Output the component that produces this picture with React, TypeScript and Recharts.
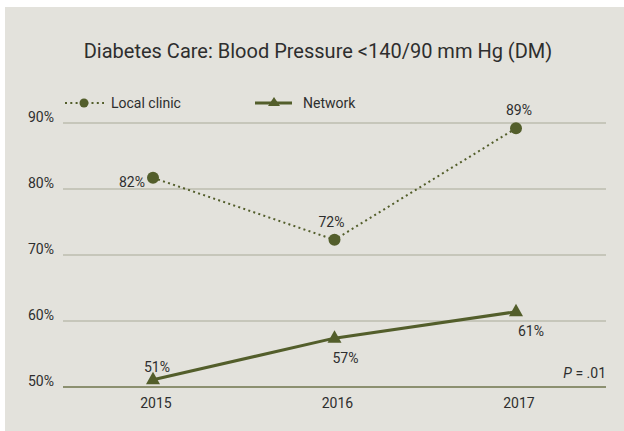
import React from 'react';
import { LineChart, Line, XAxis, YAxis, CartesianGrid, ReferenceLine, LabelList } from 'recharts';

const years = ['2015', '2016', '2017'];
const localClinic = [81.7, 72.3, 89.2];
const network = [51.1, 57.4, 61.4];
const yTicks = [50, 60, 70, 80, 90];
const seriesNames = ['Local clinic', 'Network'];
const titleText = 'Diabetes Care: Blood Pressure <140/90 mm Hg (DM)';
const pText = ' = .01';

const data = years.map((y, i) => ({ year: y, local: localClinic[i], network: network[i] }));

const OLIVE = '#535e2b';
const BG = '#e3e2dc';
const TEXT = '#2e2e2e';
const FONT = 'Roboto, "Liberation Sans", sans-serif';

// label placement style: [dx, anchor, dy]
const localLabelStyle: [number, string, number][] = [
  [-8, 'end', 9],
  [-3, 'middle', -13],
  [3, 'middle', -13],
];
const networkLabelStyle: [number, string, number][] = [
  [4, 'middle', -8],
  [11, 'middle', 25],
  [15, 'middle', 24],
];

const makeLabel = (style: [number, string, number][]) => (props: any) => {
  const { x, y, value, index } = props;
  const s = style[index] || [0, 'middle', -10];
  return (
    <text x={x + s[0]} y={y + s[2]} textAnchor={s[1] as any} fontSize={14} fill={TEXT} fontFamily={FONT}>
      {Math.round(value)}%
    </text>
  );
};

const TriangleDot = (props: any) => {
  const { cx, cy } = props;
  if (cx == null || cy == null) return null;
  return <polygon points={`${cx},${cy - 8} ${cx - 7},${cy + 4.5} ${cx + 7},${cy + 4.5}`} fill={OLIVE} />;
};

const CircleDot = (props: any) => {
  const { cx, cy } = props;
  if (cx == null || cy == null) return null;
  return <circle cx={cx} cy={cy} r={6} fill={OLIVE} />;
};

const YTick = (props: any) => {
  const { x, y, payload } = props;
  return (
    <text x={x - 9} y={y - 1} textAnchor="end" fontSize={14} fill={TEXT} fontFamily={FONT}>
      {payload.value}%
    </text>
  );
};

const XTick = (props: any) => {
  const { x, y, payload } = props;
  return (
    <text x={x + 3} y={y + 21} textAnchor="middle" fontSize={14} fill={TEXT} fontFamily={FONT}>
      {payload.value}
    </text>
  );
};

export default function App() {
  return (
    <div style={{ position: 'absolute', left: 0, top: 0, width: 624, height: 431, background: '#ffffff', overflow: 'hidden' }}>
      <div style={{ position: 'absolute', left: 5, top: 7, width: 619, height: 424, background: BG }} />
      <div style={{ position: 'absolute', left: 0, top: 0 }}>
        <LineChart width={624} height={431} data={data} margin={{ top: 123, right: 18, bottom: 14, left: 0 }}>
          <CartesianGrid vertical={false} stroke="#bdbdaf" strokeWidth={1.5} />
          <XAxis
            dataKey="year"
            height={30}
            padding={{ left: 90, right: 90 }}
            axisLine={false}
            tickLine={false}
            tickSize={0}
            tickMargin={0}
            tick={<XTick />}
          />
          <YAxis
            width={63}
            domain={[50, 90]}
            ticks={yTicks}
            axisLine={false}
            tickLine={false}
            tickSize={0}
            tickMargin={0}
            tick={<YTick />}
          />
          <ReferenceLine y={50} stroke="#8c9070" strokeWidth={2} />
          <Line
            dataKey="local"
            name={seriesNames[0]}
            stroke={OLIVE}
            strokeWidth={2}
            strokeDasharray="2 3.3"
            dot={<CircleDot />}
            activeDot={false}
            isAnimationActive={false}
          >
            <LabelList dataKey="local" content={makeLabel(localLabelStyle)} />
          </Line>
          <Line
            dataKey="network"
            name={seriesNames[1]}
            stroke={OLIVE}
            strokeWidth={3}
            dot={<TriangleDot />}
            activeDot={false}
            isAnimationActive={false}
          >
            <LabelList dataKey="network" content={makeLabel(networkLabelStyle)} />
          </Line>
        </LineChart>
      </div>
      <svg width={624} height={431} style={{ position: 'absolute', left: 0, top: 0, pointerEvents: 'none' }}>
        <text x={318} y={58} textAnchor="middle" fontSize={20} fill={TEXT} fontFamily={FONT}>
          {titleText}
        </text>
        <line x1={65} x2={104} y1={103} y2={103} stroke={OLIVE} strokeWidth={2} strokeDasharray="2 3.3" />
        <circle cx={84} cy={103} r={4.5} fill={OLIVE} />
        <text x={111} y={108} fontSize={14} fill={TEXT} fontFamily={FONT}>
          {seriesNames[0]}
        </text>
        <line x1={255} x2={292} y1={103} y2={103} stroke={OLIVE} strokeWidth={3} />
        <polygon points="274,97 268,106 280,106" fill={OLIVE} />
        <text x={303} y={108} fontSize={14} fill={TEXT} fontFamily={FONT}>
          {seriesNames[1]}
        </text>
        <text x={606} y={378} textAnchor="end" fontSize={14} fill={TEXT} fontFamily={FONT}>
          <tspan fontStyle="italic">P</tspan>
          {pText}
        </text>
      </svg>
    </div>
  );
}
